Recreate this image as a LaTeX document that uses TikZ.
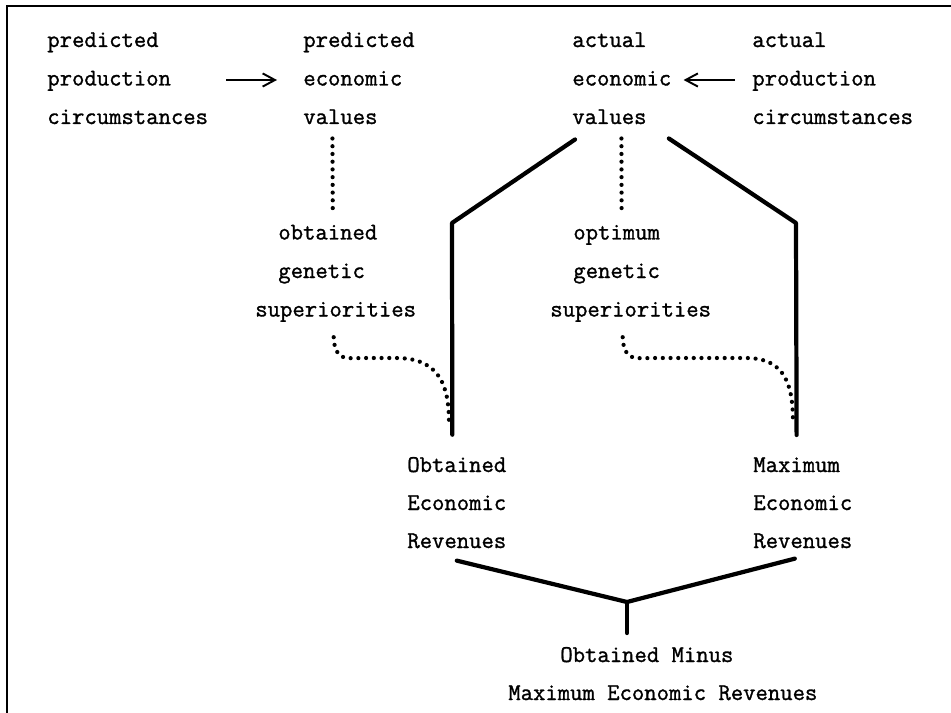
\documentclass[tikz,border=0pt]{standalone}
\usepackage{fontspec}
\newfontfamily\typewr{Latin Modern Mono}[FakeBold=1.2]
\usetikzlibrary{calc,arrows.meta}
\tikzset{
	txt/.style={anchor=base west, inner sep=0pt, font=\fontsize{13.66}{16}\selectfont\typewr},
	thickline/.style={line width=2.4pt, line cap=round, line join=round},
	dotline/.style={line width=2.4pt, line cap=round, dash pattern=on 0pt off 4.4pt},
	arr/.style={line width=1.1pt, -{Straight Barb[length=7pt,width=7.5pt,line width=1.1pt]}}
}

\begin{document}
\begin{tikzpicture}[x=0.02cm, y=-0.02cm]
			%%%%% START %%%%%
			\useasboundingbox (0, 0) rectangle (951, 713);
			
			\draw[line width=1.5pt] (7, 713) -- (7, 6) -- (951, 6);
			
			% top row
			\node[txt] (pp1) at (47, 47) {predicted};
			\node[txt] (pp2) at (47, 85.5) {production};
			\node[txt] (pp3) at (47, 124) {circumstances};
			
			\node[txt] (pv1) at (303, 47) {predicted};
			\node[txt] (pv2) at (303, 85.5) {economic};
			\node[txt] (pv3) at (303, 124) {values};
			
			\node[txt] (av1) at (572, 47) {actual};
			\node[txt] (av2) at (572, 85.5) {economic};
			\node[txt] (av3) at (572, 124) {values};
			
			\node[txt] (ap1) at (752, 47) {actual};
			\node[txt] (ap2) at (752, 85.5) {production};
			\node[txt] (ap3) at (752, 124) {circumstances};
			
			\draw[arr] ($(pp2.base east)+(55, -5.5)$) -- ($(pv2.base west)+(-26, -5.5)$);
			\draw[arr] ($(ap2.base west)+(-17, -5.5)$) -- ($(av2.base east)+(12, -5.5)$);
			
			% middle row
			\node[txt] (og1) at (278, 239.5) {obtained};
			\node[txt] (og2) at (278, 278) {genetic};
			\node[txt] (og3) at (255, 316.5) {superiorities};
			
			\node[txt] (mg1) at (573, 239.5) {optimum};
			\node[txt] (mg2) at (573, 278) {genetic};
			\node[txt] (mg3) at (550, 316.5) {superiorities};
			
			\draw[dotline] ($(pv3.south)+(-8, 14)$) -- ($(og1.north)+(5, -10)$);
			\draw[dotline] ($(av3.south)+(12, 14)$) -- ($(mg1.north)+(5, -10)$);
			
			% bottom row
			\node[txt] (oe1) at (407, 472) {Obtained};
			\node[txt] (oe2) at (407, 510) {Economic};
			\node[txt] (oe3) at (407, 548) {Revenues};
			
			\node[txt] (mx1) at (753, 472) {Maximum};
			\node[txt] (mx2) at (753, 510) {Economic};
			\node[txt] (mx3) at (753, 548) {Revenues};
			
			\node[txt] (om1) at (560, 662) {Obtained Minus};
			\node[txt] (om2) at (508, 700) {Maximum Economic Revenues};
			
			\coordinate (lb) at (452, 223);
			\coordinate (rb) at (796, 223);
			\coordinate (join) at (627, 602);
			
			\draw[thickline] ($(av3.south west)+(3, 15)$) -- (lb) -- ($(oe1.north)+(-4.5, -22)$);
			\draw[thickline] ($(av3.south east)+(22, 14)$) -- (rb) -- ($(mx1.north)+(0, -22)$);
			
			\draw[dotline] ($(og3.south)+(-2, 15)$) .. controls (335, 362) and (346, 358) .. (366, 358)
				-- (396, 358) .. controls (440, 358) and (449, 386) .. (449, 423);
			\draw[dotline] ($(mg3.south)+(-8, 15)$) .. controls (624, 362) and (635, 358) .. (655, 358)
				-- (746, 358) .. controls (786, 358) and (793, 386) .. (793, 423);
			
			\draw[thickline] ($(oe3.south)+(0, 12)$) -- (join) -- ($(mx3.south)+(-8, 10)$);
			\draw[thickline] (join) -- ++(0, 31);
			
			%%%%% END %%%%%
\end{tikzpicture}
\end{document}
